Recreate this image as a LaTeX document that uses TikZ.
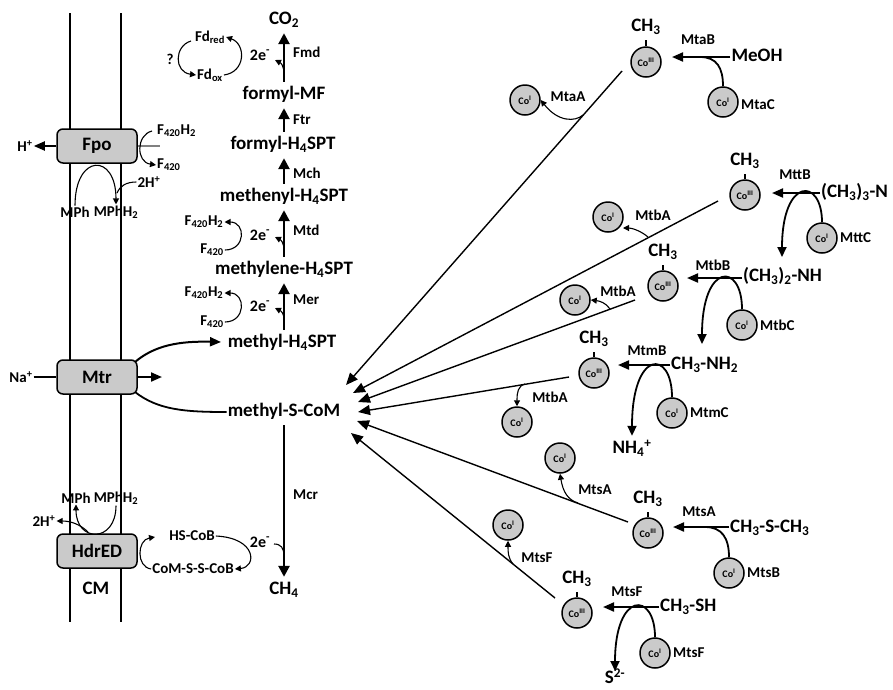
\documentclass[tikz,border=0pt]{standalone}
\usepackage{fontspec}
\setmainfont{Carlito}
\usetikzlibrary{arrows.meta}
\newcommand\Ls[1]{\textsubscript{#1}}
\newcommand\Lp[1]{\textsuperscript{#1}}
\definecolor{cofill}{HTML}{CACACA}
\begin{document}
\begin{tikzpicture}[x=1pt,y=-1pt,
 mainlbl/.style={font=\fontsize{19}{22}\selectfont\bfseries, inner xsep=1pt, inner ysep=4.5pt, text height=13pt, text depth=4pt},
 smlbl/.style={font=\fontsize{15}{18}\selectfont\bfseries, inner sep=1pt},
 elbl/.style={font=\fontsize{16}{18}\selectfont\bfseries, inner sep=1pt},
 coball/.style={circle, draw, line width=1.5pt, fill=cofill, minimum size=30pt, inner sep=0pt, font=\fontsize{10}{11}\selectfont\bfseries},
 membox/.style={rounded corners=6pt, draw, line width=1.5pt, fill=cofill, minimum width=80pt, minimum height=34pt, font=\fontsize{19}{22}\selectfont\bfseries},
 patharr/.style={line width=2.6pt, -{Triangle[length=11pt,width=11pt]}},
 longarr/.style={line width=1.4pt, -{Triangle[length=12pt,width=10pt]}},
 horarr/.style={line width=2pt, -{Triangle[length=11pt,width=9pt]}},
 loopline/.style={line width=1.8pt},
 looparr/.style={line width=1.8pt, -{Triangle[length=10pt,width=9pt]}},
 thinline/.style={line width=1.1pt},
 smallarr/.style={line width=1.1pt, -{Triangle[length=6pt,width=6pt]}},
 bondline/.style={line width=1.5pt},
]
\useasboundingbox (0,0) rectangle (893,689);

% membrane
\draw[line width=1.5pt] (70,13) -- (70,622);
\draw[line width=1.5pt] (121,13) -- (121,622);
\node[membox] (fpo) at (97,146) {Fpo};
\node[membox] (mtr) at (97,377) {Mtr};
\node[membox] (hdr) at (97,551) {HdrED};
\node[mainlbl] (cm) at (96,590) {CM};

% Fpo
\node[smlbl] (hp) at (25,146) {H\Lp{+}};
\draw[horarr] (fpo.west) -- (hp.east);
\coordinate (fpoR) at (160,146);
\draw[gray, line width=1.5pt] (fpo.east) -- (fpoR);
\node[smlbl, anchor=west] (fa) at (156,131) {F\Ls{420}H\Ls{2}};
\node[smlbl, anchor=west] (fb) at (156,165) {F\Ls{420}};
\coordinate (faS) at (152,131);
\draw[smallarr] (faS) .. controls (136,135) and (136,162) .. (fb.west);
\node[smlbl] (mph1) at (75,212) {MPh};
\node[smlbl] (mphh1) at (116,212) {MPhH\Ls{2}};
\draw[smallarr] (mph1.north) .. controls +(0,-52) and +(0,-52) .. (mphh1.north);
\node[smlbl] (h2a) at (149,182) {2H\Lp{+}};
\coordinate (h2aE) at (117,193);
\draw[thinline] (h2a.west) .. controls (126,182) and (120,186) .. (h2aE);

% Fd
\node[smlbl] (fdr) at (210,37) {Fd\Ls{red}};
\node[smlbl] (fdo) at (210,75) {Fd\Ls{ox}};
\node[smlbl] (q) at (170,59) {?};
\coordinate (fdrL) at (191,41);
\draw[smallarr] (fdrL) .. controls (174,46) and (174,72) .. (fdo.west);
\draw[smallarr] (fdo.east) .. controls (246,72) and (246,44) .. (fdr.east);

% pathway
\node[mainlbl] (co2) at (284,20) {CO\Ls{2}};
\node[mainlbl] (fmf) at (284,95) {formyl-MF};
\node[mainlbl] (fh4) at (283,145) {formyl-H\Ls{4}SPT};
\node[mainlbl] (meh4) at (284,197) {methenyl-H\Ls{4}SPT};
\node[mainlbl] (mlh4) at (284,270) {methylene-H\Ls{4}SPT};
\node[mainlbl] (myh4) at (282,343) {methyl-H\Ls{4}SPT};
\node[mainlbl] (mscom) at (284,412) {methyl-S-CoM};
\node[mainlbl] (ch4) at (284,590) {CH\Ls{4}};
\draw[patharr] (fmf.north -| 284,0) -- (co2.south -| 284,0);
\draw[patharr] (fh4.north -| 284,0) -- (fmf.south -| 284,0);
\draw[patharr] (meh4.north -| 284,0) -- (fh4.south -| 284,0);
\draw[patharr] (mlh4.north -| 284,0) -- (meh4.south -| 284,0);
\draw[patharr] (myh4.north -| 284,0) -- (mlh4.south -| 284,0);
\draw[patharr] (mscom.south -| 284,0) -- (ch4.north -| 284,0);
\node[smlbl, anchor=west] at (292,52) {Fmd};
\node[smlbl, anchor=west] at (292,120) {Ftr};
\node[smlbl, anchor=west] at (292,173) {Mch};
\node[smlbl, anchor=west] at (292,230) {Mtd};
\node[smlbl, anchor=west] at (292,300) {Mer};
\node[smlbl, anchor=west] at (292,495) {Mcr};

% 2e- hooks
\node[elbl] (e1) at (260,55) {2e\Lp{-}};
\node[elbl] (e2) at (260,235) {2e\Lp{-}};
\node[elbl] (e3) at (260,306) {2e\Lp{-}};
\node[elbl] (e4) at (260,542) {2e\Lp{-}};
\coordinate (h1a) at (284,74); \coordinate (h1b) at (275,60);
\draw[smallarr] (h1a) .. controls (284,66) and (281,63) .. (h1b);
\coordinate (h2s) at (284,250); \coordinate (h2t) at (275,237);
\draw[smallarr] (h2s) .. controls (284,243) and (281,240) .. (h2t);
\coordinate (h3s) at (284,320); \coordinate (h3t) at (275,308);
\draw[smallarr] (h3s) .. controls (284,313) and (281,311) .. (h3t);
\coordinate (h4s) at (274,544); \coordinate (h4t) at (284,556);
\draw[thinline] (h4s) .. controls (281,544) and (284,548) .. (h4t);

% F420 pairs
\node[smlbl] (fa1) at (204,222) {F\Ls{420}H\Ls{2}};
\node[smlbl] (fb1) at (212,250) {F\Ls{420}};
\draw[smallarr] (fb1.east) .. controls (246,250) and (246,222) .. (fa1.east);
\node[smlbl] (fa2) at (204,293) {F\Ls{420}H\Ls{2}};
\node[smlbl] (fb2) at (212,322) {F\Ls{420}};
\draw[smallarr] (fb2.east) .. controls (246,322) and (246,293) .. (fa2.east);

% Mtr
\node[smlbl] (na) at (21,377) {Na\Lp{+}};
\draw[thinline] (na.east) -- (mtr.west);
\coordinate (mtrR) at (162,377);
\draw[horarr] (mtr.east) -- (mtrR);
\coordinate (mtrTR) at (135,362);
\coordinate (mtrBR) at (135,392);
\coordinate (myh4L) at (221,342);
\draw[horarr] (mtrTR) .. controls (155,345) and (180,341) .. (myh4L);
\draw[loopline] (mtrBR) .. controls (158,410) and (185,412) .. (mscom.west);

% HdrED
\node[smlbl] (mph2) at (76,498) {MPh};
\node[smlbl] (mphh2) at (116,498) {MPhH\Ls{2}};
\draw[smallarr] (mphh2.south) .. controls +(0,38) and +(0,38) .. (mph2.south);
\node[smlbl] (h2b) at (44,521) {2H\Lp{+}};
\coordinate (h2bS) at (88,532);
\draw[smallarr] (h2bS) .. controls (80,524) and (70,521) .. (h2b.east);
\node[smlbl] (hscob) at (192,536) {HS-CoB};
\node[smlbl] (cssc) at (193,569) {CoM-S-S-CoB};
\coordinate (hsL) at (155,537);
\draw[smallarr] (cssc.west) .. controls (136,567) and (137,540) .. (hsL);
\draw[smallarr] (hscob.east) .. controls (257,538) and (257,567) .. (cssc.east);

% targets at methyl-S-CoM
\coordinate (t1) at (346,385);
\coordinate (t2) at (353,393);
\coordinate (t3) at (358,402);
\coordinate (t4) at (358,412);
\coordinate (t5) at (357,421);
\coordinate (t6) at (351,433);

% unit 1 MtaB
\node[coball] (c1) at (646,62) {Co\Lp{III}};
\node[mainlbl] (m1) at (646,27) {CH\Ls{3}};
\draw[bondline] (c1.north) -- (m1.south);
\node[smlbl] at (698,40) {MtaB};
\node[mainlbl] (s1) at (757,57) {MeOH};
\coordinate (a1) at (672,57);
\draw[horarr] (s1.west) -- (a1);
\node[coball] (d1) at (723,102) {Co\Lp{I}};
\node[smlbl, anchor=west] at (740,105) {MtaC};
\coordinate (j1) at (700,57);
\draw[loopline] (d1.north) .. controls (723,68) and (717,57) .. (j1);
\node[coball] (e1c) at (525,100) {Co\Lp{I}};
\node[smlbl] at (568,97) {MtaA};
\coordinate (l1) at (622,71);
\draw[longarr] (l1) -- (t1);
\coordinate (r1) at (583,115);
\draw[smallarr] (r1) .. controls (575,122) and (558,122) .. (e1c.east);

% unit 2 MttB
\node[coball] (c2) at (745,195) {Co\Lp{III}};
\node[mainlbl] (m2) at (745,161) {CH\Ls{3}};
\draw[bondline] (c2.north) -- (m2.south);
\node[smlbl] at (795,175) {MttB};
\node[mainlbl, anchor=west] (s2) at (820,193) {(CH\Ls{3})\Ls{3}-N};
\coordinate (a2) at (772,193);
\draw[horarr] (s2.west) -- (a2);
\node[coball] (d2) at (822,238) {Co\Lp{I}};
\node[smlbl, anchor=west] at (839,238) {MttC};
\coordinate (k2) at (782,257);
\draw[looparr] (d2.north) .. controls (822,177) and (782,177) .. (k2);
\node[coball] (e2c) at (608,217) {Co\Lp{I}};
\node[smlbl] at (653,215) {MtbA};
\coordinate (l2) at (718,201);
\draw[longarr] (l2) -- (t2);
\coordinate (r2) at (648,237);
\draw[smallarr] (r2) .. controls (641,231) and (632,228) .. (623,228);

% unit 3 MtbB
\node[coball] (c3) at (663,286) {Co\Lp{III}};
\node[mainlbl] (m3) at (663,252) {CH\Ls{3}};
\draw[bondline] (c3.north) -- (m3.south);
\node[smlbl] at (713,265) {MtbB};
\node[mainlbl, anchor=west] (s3) at (742,277) {(CH\Ls{3})\Ls{2}-NH};
\coordinate (a3) at (687,278);
\draw[horarr] (s3.west |- 0,278) -- (a3);
\node[coball] (d3) at (742,325) {Co\Lp{I}};
\node[smlbl, anchor=west] at (759,325) {MtbC};
\coordinate (k3) at (702,344);
\draw[looparr] (d3.north) .. controls (742,262) and (702,262) .. (k3);
\node[coball] (e3c) at (575,300) {Co\Lp{I}};
\node[smlbl] at (618,291) {MtbA};
\coordinate (l3) at (635,300);
\draw[longarr] (l3) -- (t3);
\coordinate (r3) at (610,309);
\draw[smallarr] (r3) .. controls (606,303) and (600,301) .. (e3c.east);

% unit 4 MtmB
\node[coball] (c4) at (594,373) {Co\Lp{III}};
\node[mainlbl] (m4) at (594,339) {CH\Ls{3}};
\draw[bondline] (c4.north) -- (m4.south);
\node[smlbl] at (647,351) {MtmB};
\node[mainlbl, anchor=west] (s4) at (670,365) {CH\Ls{3}-NH\Ls{2}};
\coordinate (a4) at (618,365);
\draw[horarr] (s4.west) -- (a4);
\node[coball] (d4) at (672,413) {Co\Lp{I}};
\node[smlbl, anchor=west] at (689,413) {MtmC};
\node[mainlbl] (nh4) at (632,449) {NH\Ls{4}\Lp{+}};
\draw[looparr] (d4.north) .. controls (672,349) and (632,349) .. (nh4.north);
\node[coball] (e4c) at (517,422) {Co\Lp{I}};
\node[smlbl] at (550,397) {MtbA};
\coordinate (l4) at (569,377);
\draw[longarr] (l4) -- (t4);
\coordinate (r4) at (525,384);
\draw[smallarr] (r4) .. controls (518,386) and (517,392) .. (e4c.north);

% unit 5 MtsA
\node[coball] (c5) at (648,533) {Co\Lp{III}};
\node[mainlbl] (m5) at (648,499) {CH\Ls{3}};
\draw[bondline] (c5.north) -- (m5.south);
\node[smlbl] at (699,512) {MtsA};
\node[mainlbl, anchor=west] (s5) at (729,528) {CH\Ls{3}-S-CH\Ls{3}};
\coordinate (a5) at (673,527);
\draw[horarr] (s5.west |- 0,527) -- (a5);
\node[coball] (d5) at (729,573) {Co\Lp{I}};
\node[smlbl, anchor=west] at (746,573) {MtsB};
\coordinate (j5) at (705,527);
\draw[loopline] (d5.north) .. controls (729,538) and (722,527) .. (j5);
\node[coball] (e5c) at (560,458) {Co\Lp{I}};
\node[smlbl] at (595,490) {MtsA};
\coordinate (l5) at (628,522);
\draw[longarr] (l5) -- (t5);
\coordinate (r5) at (578,503);
\draw[smallarr] (r5) .. controls (568,500) and (563,492) .. (e5c.south);

% unit 6 MtsF
\node[coball] (c6) at (577,613) {Co\Lp{III}};
\node[mainlbl] (m6) at (577,579) {CH\Ls{3}};
\draw[bondline] (c6.north) -- (m6.south);
\node[smlbl] at (627,592) {MtsF};
\node[mainlbl, anchor=west] (s6) at (659,607) {CH\Ls{3}-SH};
\coordinate (a6) at (603,607);
\draw[horarr] (s6.west) -- (a6);
\node[coball] (d6) at (655,653) {Co\Lp{I}};
\node[smlbl, anchor=west] at (672,653) {MtsF};
\node[mainlbl, inner ysep=1pt] (s2m) at (615,679) {S\Lp{2-}};
\coordinate (k6) at (615,671);
\draw[looparr] (d6.north) .. controls (655,591) and (615,591) .. (k6);
\node[coball] (e6c) at (508,525) {Co\Lp{I}};
\node[smlbl] at (537,558) {MtsF};
\coordinate (l6) at (555,598);
\draw[longarr] (l6) -- (t6);
\coordinate (r6) at (513,564);
\draw[smallarr] (r6) .. controls (508,558) and (508,552) .. (e6c.south);
\end{tikzpicture}
\end{document}
